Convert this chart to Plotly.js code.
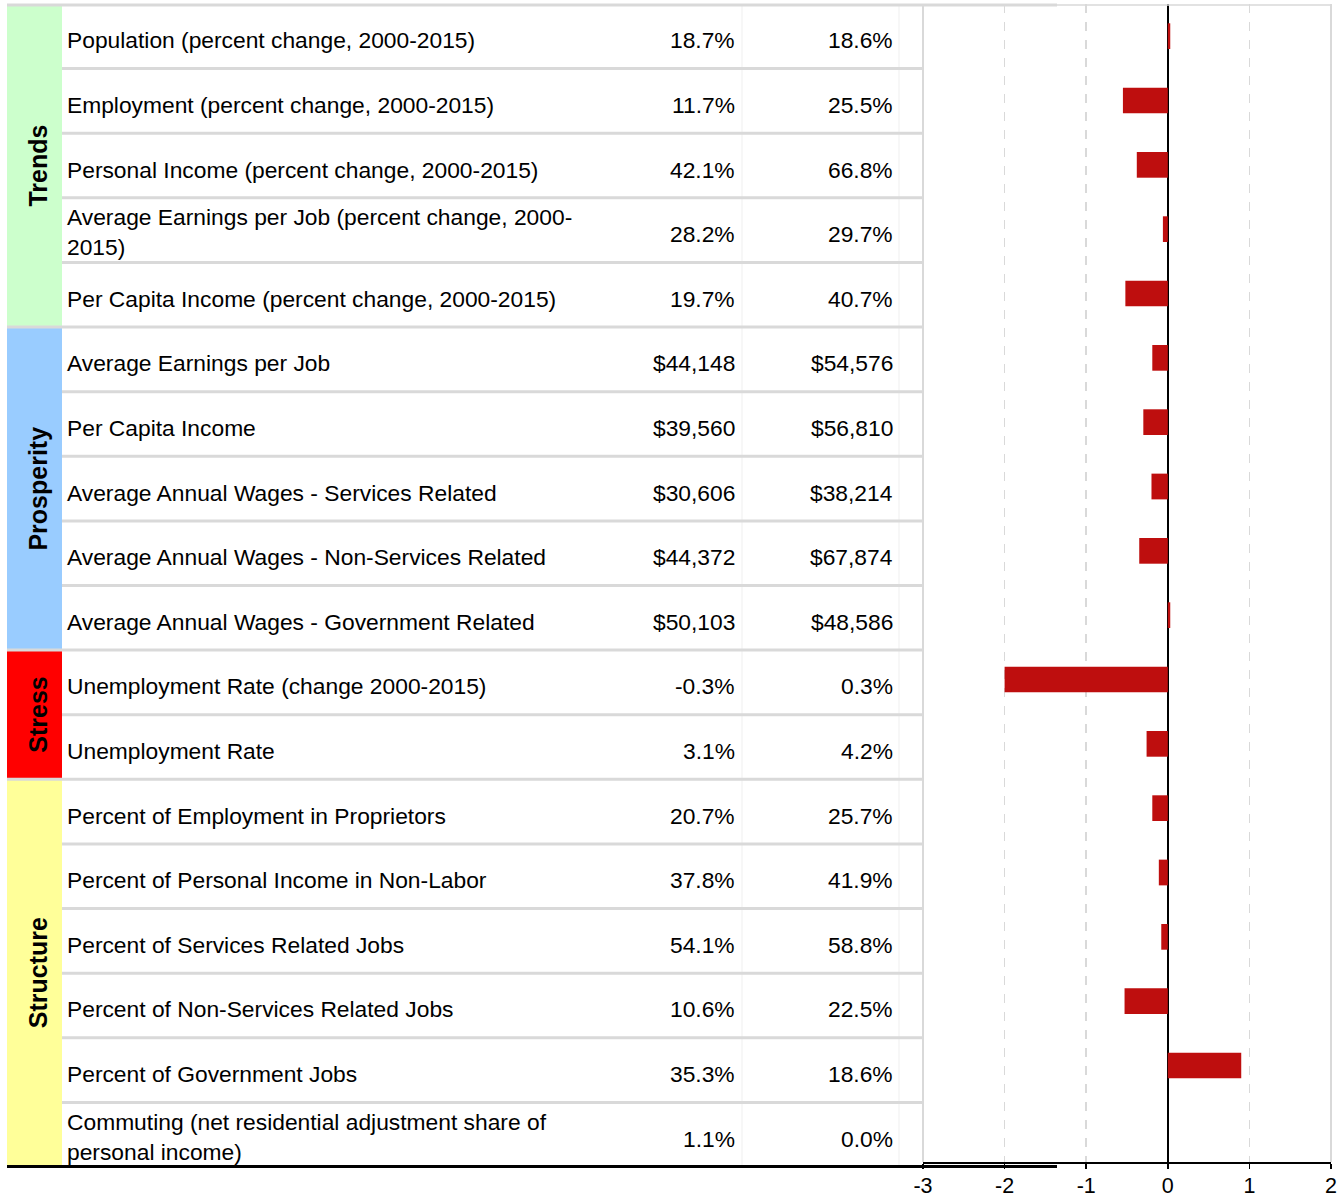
<!DOCTYPE html>
<html>
<head>
<meta charset="utf-8">
<script src="https://cdn.plot.ly/plotly-3.0.1.min.js"></script>
<style>
html,body{margin:0;padding:0;background:#fff;}
#chart{width:1343px;height:1198px;}
</style>
</head>
<body>
<div id="chart"></div>
<script>
// ---------------- data ----------------
var groups = ["Trends", "Prosperity", "Stress", "Structure"];
var groupSizes = [5, 5, 2, 6];
var groupColors = ["#CCFFCC", "#99CCFF", "#FF0000", "#FFFF99"];

var labels = [
  "Population (percent change, 2000-2015)",
  "Employment (percent change, 2000-2015)",
  "Personal Income (percent change, 2000-2015)",
  "Average Earnings per Job (percent change, 2000-<br>2015)",
  "Per Capita Income (percent change, 2000-2015)",
  "Average Earnings per Job",
  "Per Capita Income",
  "Average Annual Wages - Services Related",
  "Average Annual Wages - Non-Services Related",
  "Average Annual Wages - Government Related",
  "Unemployment Rate (change 2000-2015)",
  "Unemployment Rate",
  "Percent of Employment in Proprietors",
  "Percent of Personal Income in Non-Labor",
  "Percent of Services Related Jobs",
  "Percent of Non-Services Related Jobs",
  "Percent of Government Jobs",
  "Commuting (net residential adjustment share of<br>personal income)"
];

var localValues = ["18.7%", "11.7%", "42.1%", "28.2%", "19.7%",
  "$44,148", "$39,560", "$30,606", "$44,372", "$50,103",
  "-0.3%", "3.1%",
  "20.7%", "37.8%", "54.1%", "10.6%", "35.3%", "1.1%"];

var benchmarkValues = ["18.6%", "25.5%", "66.8%", "29.7%", "40.7%",
  "$54,576", "$56,810", "$38,214", "$67,874", "$48,586",
  "0.3%", "4.2%",
  "25.7%", "41.9%", "58.8%", "22.5%", "18.6%", "0.0%"];

var barValues = [0.03, -0.55, -0.38, -0.06, -0.52,
  -0.19, -0.30, -0.20, -0.35, 0.03,
  -2.00, -0.26,
  -0.19, -0.11, -0.08, -0.53, 0.90, 0.0];

var xTickVals = [-3, -2, -1, 0, 1, 2];

// ---------------- layout helpers ----------------
var W = 1343, H = 1198;
var mL = 923, mR = 12, mT = 4, mB = 31;
var plotW = W - mL - mR;          // 408
var plotH = H - mT - mB;          // 1163
function px(x) { return (x - mL) / plotW; }
var nRows = labels.length;
function rowEdge(k) { return 1 - k / nRows; }
function rowMid(i) { return 1 - (i + 0.5) / nRows; }

var FONT = "Arial, 'Liberation Sans', Helvetica, sans-serif";
var TXT = 22.8;
var shapes = [];
var annotations = [];

// group bands + labels
var start = 0;
var groupStarts = [];
for (var g = 0; g < groups.length; g++) {
  var end = start + groupSizes[g];
  groupStarts.push(start);
  shapes.push({type: "rect", xref: "paper", yref: "paper",
    x0: px(7), x1: px(62), y0: rowEdge(end), y1: rowEdge(start),
    fillcolor: groupColors[g], line: {width: 0}, layer: "below"});
  annotations.push({xref: "paper", yref: "paper",
    x: px(38), y: (rowEdge(start) + rowEdge(end)) / 2,
    text: "<b>" + groups[g] + "</b>", textangle: -90, showarrow: false,
    xanchor: "center", yanchor: "middle",
    font: {family: FONT, size: 25, color: "#000"}});
  start = end;
}

// faint column lines
[742, 899].forEach(function (xx) {
  shapes.push({type: "line", xref: "paper", yref: "paper",
    x0: px(xx), x1: px(xx), y0: 0, y1: 1,
    line: {color: "#EFEFEF", width: 1}, layer: "below"});
});

// row separators
for (var k = 1; k < nRows; k++) {
  var isGroupEdge = groupStarts.indexOf(k) >= 0;
  shapes.push({type: "line", xref: "paper", yref: "paper",
    x0: px(isGroupEdge ? 7 : 62), x1: px(923), y0: rowEdge(k), y1: rowEdge(k),
    line: {color: "#D9D9D9", width: 3}, layer: "below"});
}
// top border of table
shapes.push({type: "line", xref: "paper", yref: "paper",
  x0: px(7), x1: px(1057), y0: 1 - 1 / plotH, y1: 1 - 1 / plotH,
  line: {color: "#D9D9D9", width: 3}, layer: "above"});
// plot top border
shapes.push({type: "line", xref: "paper", yref: "paper",
  x0: 0, x1: 1, y0: 1 - 1 / plotH, y1: 1 - 1 / plotH,
  line: {color: "#D9D9D9", width: 1.5}, layer: "above"});
// plot left/right borders
[0, 1].forEach(function (xx) {
  shapes.push({type: "line", xref: "paper", yref: "y domain",
    x0: xx, x1: xx, y0: 0, y1: 1,
    line: {color: "#D9D9D9", width: 2}, layer: "below"});
});
// bottom black line
shapes.push({type: "line", xref: "paper", yref: "paper",
  x0: px(7), x1: px(1057), y0: 0.5 / plotH, y1: 0.5 / plotH,
  line: {color: "#000", width: 3}, layer: "above"});

// table texts
for (var i = 0; i < nRows; i++) {
  var multi = labels[i].indexOf("<br>") >= 0;
  annotations.push({xref: "paper", yref: "paper", x: px(65), y: rowMid(i), yshift: multi ? -2 : -4,
    text: labels[i], showarrow: false, xanchor: "left", yanchor: "middle", align: "left",
    font: {family: FONT, size: TXT, color: "#000"}});
  annotations.push({xref: "paper", yref: "paper", x: px(737), y: rowMid(i), yshift: -4,
    text: localValues[i], showarrow: false, xanchor: "right", yanchor: "middle",
    font: {family: FONT, size: TXT, color: "#000"}});
  annotations.push({xref: "paper", yref: "paper", x: px(895), y: rowMid(i), yshift: -4,
    text: benchmarkValues[i], showarrow: false, xanchor: "right", yanchor: "middle",
    font: {family: FONT, size: TXT, color: "#000"}});
}

var trace = {
  type: "bar", orientation: "h",
  x: barValues, y: labels,
  width: 0.4,
  marker: {color: "#BE0E0E", line: {width: 0}},
  hoverinfo: "x"
};

var layout = {
  width: W, height: H,
  margin: {l: mL, r: mR, t: mT, b: mB, pad: 0},
  paper_bgcolor: "#fff", plot_bgcolor: "rgba(0,0,0,0)",
  showlegend: false,
  font: {family: FONT, color: "#000"},
  xaxis: {
    range: [-3, 2], tickvals: xTickVals, ticktext: xTickVals.map(String),
    showgrid: true, gridcolor: "#D9D9D9", gridwidth: 1.5, griddash: "dash",
    zeroline: true, zerolinecolor: "#000", zerolinewidth: 2,
    showline: true, linecolor: "#000", linewidth: 1.5,
    ticks: "outside", ticklen: 5, tickwidth: 1.5, tickcolor: "#000",
    tickfont: {family: FONT, size: 21.5, color: "#000"},
    ticklabelstandoff: -1,
    fixedrange: true
  },
  yaxis: {
    domain: [5 / plotH, 1],
    type: "category", categoryorder: "array", categoryarray: labels,
    range: [nRows - 0.5, -0.5],
    showticklabels: false, showgrid: false, zeroline: false, showline: false, ticks: "",
    fixedrange: true
  },
  shapes: shapes,
  annotations: annotations
};

Plotly.newPlot("chart", [trace], layout, {displayModeBar: false, staticPlot: true});
</script>
</body>
</html>
